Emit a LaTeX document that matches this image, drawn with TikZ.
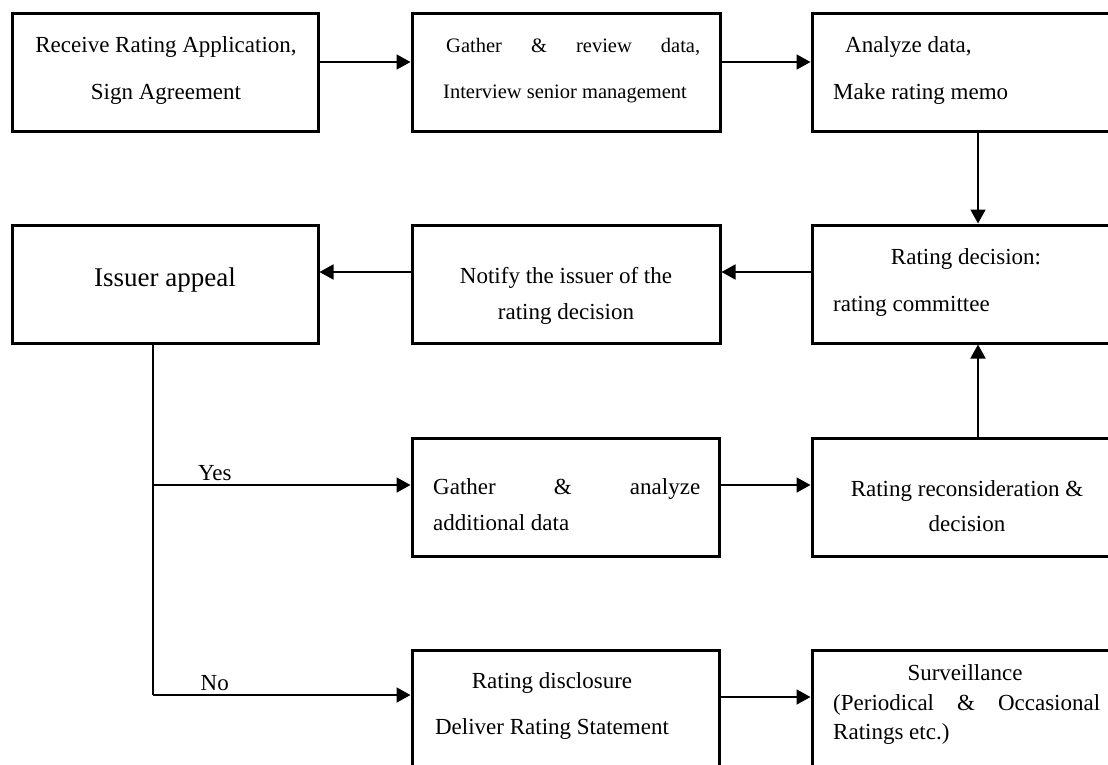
\documentclass[tikz,border=0pt]{standalone}
\usepackage{fontspec}
\setmainfont{Liberation Serif}
\usetikzlibrary{arrows.meta}
\begin{document}
\begin{tikzpicture}[x=1pt,y=-1pt,
  box/.style={draw,line width=3pt,rectangle,inner sep=0pt},
  conn/.style={line width=1.8pt},
  arr/.style={conn,-{Triangle[length=14pt,width=15pt]}},
  txt/.style={inner sep=0pt,font=\fontsize{23}{28}\selectfont},
  stxt/.style={inner sep=0pt,font=\fontsize{20.5}{24}\selectfont},
  btxt/.style={inner sep=0pt,font=\fontsize{27}{32}\selectfont}]
\useasboundingbox (0,0) rectangle (1108,764);
\clip (0,0) rectangle (1108,764);
% boxes
\node[box,minimum width=306pt,minimum height=118pt] (b1) at (165,72) {};
\node[box,minimum width=308pt,minimum height=118pt] (b2) at (566,72) {};
\node[box,minimum width=332pt,minimum height=118pt] (b3) at (978,72) {};
\node[box,minimum width=332pt,minimum height=118pt] (rd) at (978,284) {};
\node[box,minimum width=308pt,minimum height=118pt] (nt) at (566,284) {};
\node[box,minimum width=306pt,minimum height=118pt] (ia) at (165,284) {};
\node[box,minimum width=307pt,minimum height=118pt] (ga) at (565.5,497) {};
\node[box,minimum width=332pt,minimum height=118pt] (rr) at (978,497) {};
\node[box,minimum width=307pt,minimum height=150pt] (dc) at (565.5,725) {};
\node[box,minimum width=332pt,minimum height=150pt] (sv) at (978,725) {};
% texts
\node[txt,anchor=mid] (t1a) at (166,50) {Receive Rating Application,};
\node[txt,anchor=mid] (t1b) at (166,97) {Sign Agreement};
\node[stxt,anchor=mid west] (t2a) at (446,50) {\makebox[254pt][s]{Gather \& review data,}};
\node[stxt,anchor=mid west] (t2b) at (443,96) {Interview senior management};
\node[txt,anchor=mid west] (t3a) at (845,50) {Analyze data,};
\node[txt,anchor=mid west] (t3b) at (833,97) {Make rating memo};
\node[txt,anchor=mid] (trda) at (966,262) {Rating decision:};
\node[txt,anchor=mid west] (trdb) at (833,309) {rating committee};
\node[txt,anchor=mid] (tnta) at (566,281) {Notify the issuer of the};
\node[txt,anchor=mid] (tntb) at (566,317) {rating decision};
\node[btxt,anchor=mid] (tia) at (165,284) {Issuer appeal};
\node[txt,anchor=mid west] (tgaa) at (433,492) {\makebox[267pt][s]{Gather \& analyze}};
\node[txt,anchor=mid west] (tgab) at (433,528) {additional data};
\node[txt,anchor=mid] (trra) at (967,494) {Rating reconsideration \&};
\node[txt,anchor=mid] (trrb) at (967,529) {decision};
\node[txt,anchor=mid] (tdca) at (552,686) {Rating disclosure};
\node[txt,anchor=mid] (tdcb) at (552,732) {Deliver Rating Statement};
\node[txt,anchor=mid] (tsva) at (965,678) {Surveillance};
\node[txt,anchor=mid west] (tsvb) at (833,708) {\makebox[267pt][s]{(Periodical \& Occasional}};
\node[txt,anchor=mid west] (tsvc) at (833,737) {Ratings etc.)};
% connectors
\coordinate (yes) at (153,485);
\coordinate (no) at (153,695);
\draw[arr] (b1.east |- 0,62) -- (b2.west |- 0,62);
\draw[arr] (b2.east |- 0,62) -- (b3.west |- 0,62);
\draw[arr] (b3.south) -- (rd.north);
\draw[arr] (rd.west |- 0,272) -- (nt.east |- 0,272);
\draw[arr] (nt.west |- 0,272) -- (ia.east |- 0,272);
\draw[conn] (ia.south -| no) -- (no);
\draw[arr] (yes) -- (ga.west |- yes) node[pos=0.24,above=3pt,txt] (lyes) {Yes};
\draw[arr] (no) -- (dc.west |- no) node[pos=0.24,above=3pt,txt] (lno) {No};
\draw[arr] (ga.east |- yes) -- (rr.west |- yes);
\draw[arr] (rr.north) -- (rd.south);
\draw[arr] (dc.east |- 0,697) -- (sv.west |- 0,697);
\end{tikzpicture}
\end{document}
